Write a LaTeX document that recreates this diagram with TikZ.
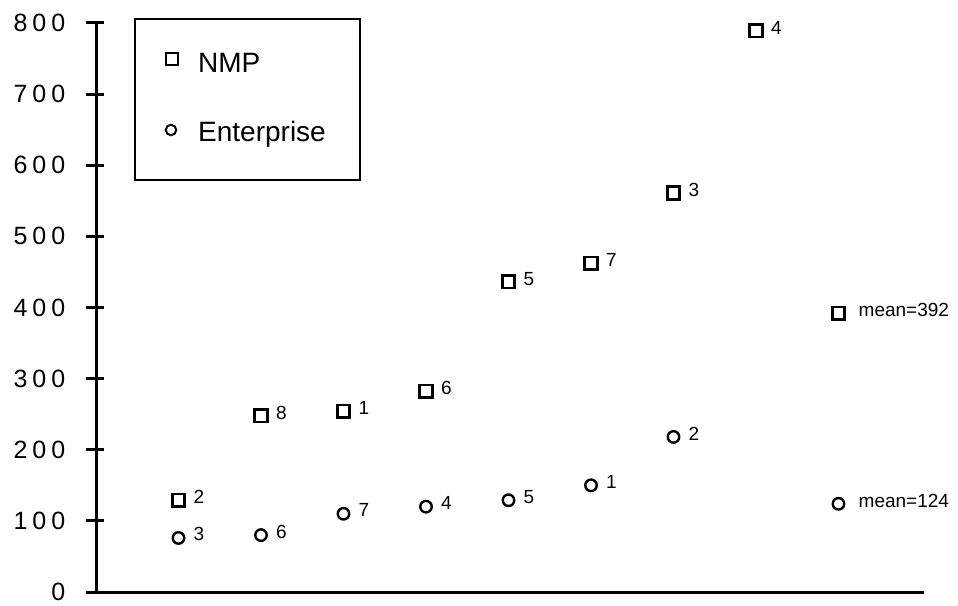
\documentclass[tikz,border=0pt]{standalone}
\usepackage{fontspec}
\setmainfont{Liberation Sans}
\usepackage{tikz}
\usetikzlibrary{positioning}

\newcommand{\gap}{\hspace{5pt}}

\tikzset{
  nmp/.style={draw, line width=2.6pt, minimum size=12.5pt, inner sep=0pt},
  ent/.style={draw, circle, line width=2.4pt, minimum size=11.5pt, inner sep=0pt},
  keynmp/.style={draw, line width=2pt, minimum size=11.5pt, inner sep=0pt},
  keyent/.style={draw, circle, line width=2pt, minimum size=10.5pt, inner sep=0pt},
  ptlbl/.style={font=\fontsize{19}{22}\selectfont, inner sep=0pt},
  axlbl/.style={font=\fontsize{25}{28}\selectfont, anchor=east, inner sep=0pt},
  keylbl/.style={font=\fontsize{28}{32}\selectfont, anchor=west, inner sep=0pt}
}

\begin{document}
\begin{tikzpicture}[x=1pt, y=1pt]
\useasboundingbox (0,0) rectangle (958,605);

\begin{scope}[shift={(96,13)}, x=82.5pt, y=0.71125pt]
% axes
\draw[line width=3pt] (-0.12,0) -- (10.04,0);
\draw[line width=3pt] (0,0) -- (0,800);
\foreach \v/\t in {0/0, 100/1\gap0\gap0, 200/2\gap0\gap0, 300/3\gap0\gap0,
                   400/4\gap0\gap0, 500/5\gap0\gap0, 600/6\gap0\gap0,
                   700/7\gap0\gap0, 800/8\gap0\gap0} {
  \draw[line width=3pt] (-0.12,\v) -- (0.1,\v);
  \node[axlbl] (y\v) at (-0.37,\v) {\t};
}

% NMP
\foreach \x/\v/\t in {1/129/2, 2/248/8, 3/254/1, 4/282/6, 5/436/5,
                      6/462/7, 7/561/3, 8/789/4} {
  \node[nmp] (n\x) at (\x,\v) {};
  \node[ptlbl, anchor=west, xshift=15pt, yshift=3pt] (nl\x) at (n\x.center) {\t};
}
\node[nmp] (nmean) at (9,392) {};
\node[ptlbl, anchor=west, xshift=20pt, yshift=3pt] (nlmean) at (nmean.center) {mean=392};

% Enterprise
\foreach \x/\v/\t in {1/76/3, 2/80/6, 3/110/7, 4/120/4, 5/129/5,
                      6/150/1, 7/218/2} {
  \node[ent] (e\x) at (\x,\v) {};
  \node[ptlbl, anchor=west, xshift=15pt, yshift=3.5pt] (el\x) at (e\x.center) {\t};
}
\node[ent] (emean) at (9,124) {};
\node[ptlbl, anchor=west, xshift=20pt, yshift=3pt] (elmean) at (emean.center) {mean=124};
\end{scope}

% legend
\draw[line width=2pt] (135,586) rectangle (360,425);
\node[keynmp] (keyn) at (172,546) {};
\node[keylbl] (keynt) at (198,542) {NMP};
\node[keyent] (keye) at (171,475) {};
\node[keylbl] (keyet) at (198,471) {Enterprise};
\end{tikzpicture}
\end{document}
